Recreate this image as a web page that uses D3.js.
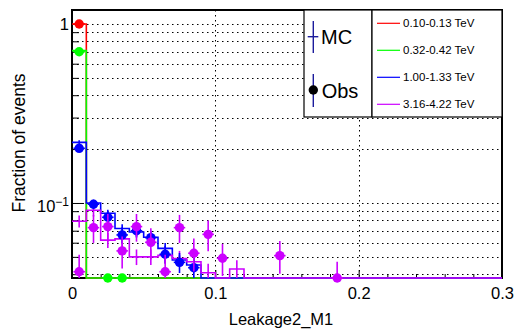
<!DOCTYPE html>
<html>
<head>
<meta charset="utf-8">
<script src="https://cdn.jsdelivr.net/npm/d3@7"></script>
<style>
  body { margin: 0; background: #fff; }
  text { font-family: "Liberation Sans", Arial, Helvetica, sans-serif; fill: #000; }
</style>
</head>
<body>
<div id="chart"></div>
<script>
// Leakage2_M1 histograms, bins of 0.01 from 0 to 0.3
const binWidth = 0.01;
const nBins = 30;

const seriesNames = ['0.10-0.13 TeV', '0.32-0.42 TeV', '1.00-1.33 TeV', '3.16-4.22 TeV'];
const seriesColors = ['#ff0000', '#00ff00', '#0000ff', '#cc00ff'];

// MC fraction of events per bin (missing bins are empty)
const mcRed = [1.0];
const mcGreen = [0.71];
const mcBlue = [0.218, 0.100, 0.0876, 0.072, 0.0688, 0.0643, 0.0558, 0.048, 0.045];
const mcMagenta = [0.079, 0.091, 0.062, 0.063, 0.050, 0.050, 0.051, 0.049, 0.047, 0.0408, 0, 0.0428];
const mcErrRed = [0.004];
const mcErrGreen = [0.004];
const mcErrBlue = [0.006, 0.004, 0.004, 0.004, 0.004, 0.004, 0.004, 0.003, 0.003];
const mcErrMagenta = [0.006, 0.007, 0.006, 0.006, 0.005, 0.005, 0.005, 0.005, 0.005, 0.005, 0, 0.005];

// observed fraction of events per bin
const obsRed = [1.0];
const obsGreen = [0.70, 0, 0.02, 0.02];
const obsBlue = [0.202, 0.0984, 0.0832, 0.0663, 0.070, 0.064, 0.0517, 0.0466, 0.0435];
const obsMagenta = [0.0413, 0.0728, 0.0738, 0.054, 0.0738, 0.0603, 0.0413, 0.0728, 0.0524, 0.0668, 0.0491, 0, 0, 0, 0.0508, 0, 0, 0, 0.037];
const obsErrRed = [0.005];
const obsErrGreen = [0.006, 0, 0.01, 0.01];
const obsErrBlue = [0.006, 0.006, 0.006, 0.007, 0.006, 0.006, 0.006, 0.006, 0.006];
const obsErrMagenta = [0.010, 0.013, 0.013, 0.011, 0.013, 0.012, 0.010, 0.013, 0.011, 0.013, 0.010, 0, 0, 0, 0.0105, 0, 0, 0, 0.010];

const xTicks = [0, 0.1, 0.2, 0.3];
const xMinorTicks = [0.02, 0.04, 0.06, 0.08, 0.12, 0.14, 0.16, 0.18, 0.22, 0.24, 0.26, 0.28];
const yTicks = [1, 0.1];
const yMinorTicks = [0.9, 0.8, 0.7, 0.6, 0.5, 0.4, 0.3, 0.2, 0.09, 0.08, 0.07, 0.06, 0.05, 0.04];
const yRange = [0.0381, 1.197];

const mcSeries = [mcRed, mcGreen, mcBlue, mcMagenta];
const mcErrs = [mcErrRed, mcErrGreen, mcErrBlue, mcErrMagenta];
const obsSeries = [obsRed, obsGreen, obsBlue, obsMagenta];
const obsErrs = [obsErrRed, obsErrGreen, obsErrBlue, obsErrMagenta];

const config = {
  width: 515, height: 335,
  margin: { top: 10, right: 13, bottom: 57, left: 72 }
};
const W = config.width - config.margin.left - config.margin.right;
const H = config.height - config.margin.top - config.margin.bottom;

const svg = d3.select('#chart').append('svg')
  .attr('width', config.width)
  .attr('height', config.height);

const chart = svg.append('g')
  .attr('transform', `translate(${config.margin.left}, ${config.margin.top})`);

const xScale = d3.scaleLinear().domain([0, nBins * binWidth]).range([0, W]);
const yScale = d3.scaleLog().domain(yRange).range([H, 0]);
const yc = v => yScale(Math.max(v, yRange[0]));

// grid
const grid = chart.append('g').attr('stroke', '#000').attr('stroke-width', 1).attr('stroke-dasharray', '1.5,3.5');
grid.selectAll('.gy').data(yTicks.concat(yMinorTicks)).join('line')
  .attr('x1', 0).attr('x2', W)
  .attr('y1', d => Math.round(yScale(d)) + 0.5).attr('y2', d => Math.round(yScale(d)) + 0.5);
grid.selectAll('.gx').data([0.1, 0.2]).join('line')
  .attr('y1', 0).attr('y2', H)
  .attr('x1', d => Math.round(xScale(d)) + 0.5).attr('x2', d => Math.round(xScale(d)) + 0.5);

// axes
const xAxis = chart.append('g').attr('transform', `translate(0, ${H})`)
  .call(d3.axisBottom(xScale).tickValues(xTicks).tickSize(-8).tickPadding(9)
    .tickFormat(d => d === 0 ? '0' : d3.format('.1f')(d)));
chart.append('g').attr('transform', `translate(0, ${H})`)
  .call(d3.axisBottom(xScale).tickValues(xMinorTicks).tickSize(-4).tickFormat(''));
const yAxis = chart.append('g')
  .call(d3.axisLeft(yScale).tickValues(yTicks).tickSize(-12).tickFormat(''));
chart.append('g')
  .call(d3.axisLeft(yScale).tickValues(yMinorTicks).tickSize(-7).tickFormat(''));
chart.selectAll('.domain').remove();
chart.selectAll('.tick line').attr('stroke', '#000').attr('stroke-width', 1);
xAxis.selectAll('text').attr('font-size', 16.5).attr('fill', '#000')
  .attr('font-family', '"Liberation Sans", Arial, sans-serif');

// y tick labels (ROOT style 1 and 10^-1)
yTicks.forEach(t => {
  const lab = chart.append('text')
    .attr('text-anchor', 'end')
    .attr('x', -3)
    .attr('font-size', 16.5);
  if (t === 1) {
    lab.attr('y', yScale(t) + 6).text('1');
  } else {
    const e = Math.round(Math.log10(t));
    lab.attr('y', yScale(t) + 8.7);
    lab.append('tspan').text('10');
    lab.append('tspan').attr('font-size', 12).attr('dy', -5.5).text('\u2212' + Math.abs(e));
  }
});

// frame
chart.append('rect')
  .attr('x', 0).attr('y', 0).attr('width', W).attr('height', H)
  .attr('fill', 'none').attr('stroke', '#000').attr('stroke-width', 2);

// MC step histograms
const pad = arr => d3.range(nBins).map(i => arr[i] || 0);
mcSeries.forEach((s, k) => {
  const vals = pad(s);
  let p = `M${xScale(0)},${yc(vals[0])}`;
  vals.forEach((v, i) => {
    if (i > 0) p += `V${yc(v)}`;
    p += `H${xScale((i + 1) * binWidth)}`;
  });
  chart.append('path').attr('d', p)
    .attr('fill', 'none').attr('stroke', seriesColors[k]).attr('stroke-width', 1.6);
  // MC error crosses
  chart.append('g').selectAll('line')
    .data(vals.map((v, i) => ({ v, i, e: pad(mcErrs[k])[i] })).filter(d => d.v > 0))
    .join('line')
    .attr('x1', d => xScale((d.i + 0.5) * binWidth)).attr('x2', d => xScale((d.i + 0.5) * binWidth))
    .attr('y1', d => yc(d.v - d.e)).attr('y2', d => yc(d.v + d.e))
    .attr('stroke', seriesColors[k]).attr('stroke-width', 1.6);
});

// observed points with errors
obsSeries.forEach((s, k) => {
  const pts = pad(s).map((v, i) => ({ v, i, e: pad(obsErrs[k])[i] })).filter(d => d.v > 0);
  const g = chart.append('g').attr('stroke', seriesColors[k]).attr('stroke-width', 1.6);
  g.selectAll('.ev').data(pts).join('line')
    .attr('x1', d => xScale((d.i + 0.5) * binWidth)).attr('x2', d => xScale((d.i + 0.5) * binWidth))
    .attr('y1', d => yc(d.v - d.e)).attr('y2', d => yc(d.v + d.e));
  g.selectAll('.eh').data(pts).join('line')
    .attr('x1', d => xScale(d.i * binWidth + 0.001)).attr('x2', d => xScale((d.i + 1) * binWidth - 0.001))
    .attr('y1', d => yc(d.v)).attr('y2', d => yc(d.v));
  chart.append('g').selectAll('circle').data(pts).join('circle')
    .attr('cx', d => xScale((d.i + 0.5) * binWidth))
    .attr('cy', d => yc(d.v))
    .attr('r', 4.7)
    .attr('fill', seriesColors[k]);
});

// legends
const leg1 = svg.append('g').attr('transform', 'translate(304, 10)');
leg1.append('rect').attr('width', 68).attr('height', 107)
  .attr('fill', '#fff').attr('stroke', '#000').attr('stroke-width', 1.2);
const legCol = '#1c1c9c';
leg1.append('line').attr('x1', 9.3).attr('x2', 9.3).attr('y1', 11).attr('y2', 43).attr('stroke', legCol).attr('stroke-width', 1.4);
leg1.append('line').attr('x1', 3.7).attr('x2', 14.3).attr('y1', 26.7).attr('y2', 26.7).attr('stroke', legCol).attr('stroke-width', 1.4);
leg1.append('text').attr('x', 17).attr('y', 34.3).attr('font-size', 20).text('MC');
leg1.append('line').attr('x1', 9.3).attr('x2', 9.3).attr('y1', 64).attr('y2', 97).attr('stroke', legCol).attr('stroke-width', 1.4);
leg1.append('circle').attr('cx', 9.3).attr('cy', 80).attr('r', 4.7).attr('fill', '#000');
leg1.append('text').attr('x', 17.7).attr('y', 87.7).attr('font-size', 20).text('Obs');

const leg2 = svg.append('g').attr('transform', 'translate(372, 10)');
leg2.append('rect').attr('width', 130).attr('height', 107)
  .attr('fill', '#fff').attr('stroke', '#000').attr('stroke-width', 1.2);
const legY = d3.scalePoint().domain(seriesNames).range([13.3, 94.3]);
seriesNames.forEach((n, k) => {
  leg2.append('line').attr('x1', 5).attr('x2', 28)
    .attr('y1', legY(n)).attr('y2', legY(n))
    .attr('stroke', seriesColors[k]).attr('stroke-width', 1.2);
  leg2.append('text').attr('x', 31).attr('y', legY(n) + 4).attr('font-size', 11.5).text(n);
});

// axis titles
svg.append('text')
  .attr('text-anchor', 'middle')
  .attr('x', 281).attr('y', 325)
  .attr('font-size', 16.5)
  .text('Leakage2_M1');
svg.append('text')
  .attr('text-anchor', 'middle')
  .attr('transform', 'translate(25, 143) rotate(-90)')
  .attr('font-size', 17.5)
  .text('Fraction of events');
</script>
</body>
</html>
